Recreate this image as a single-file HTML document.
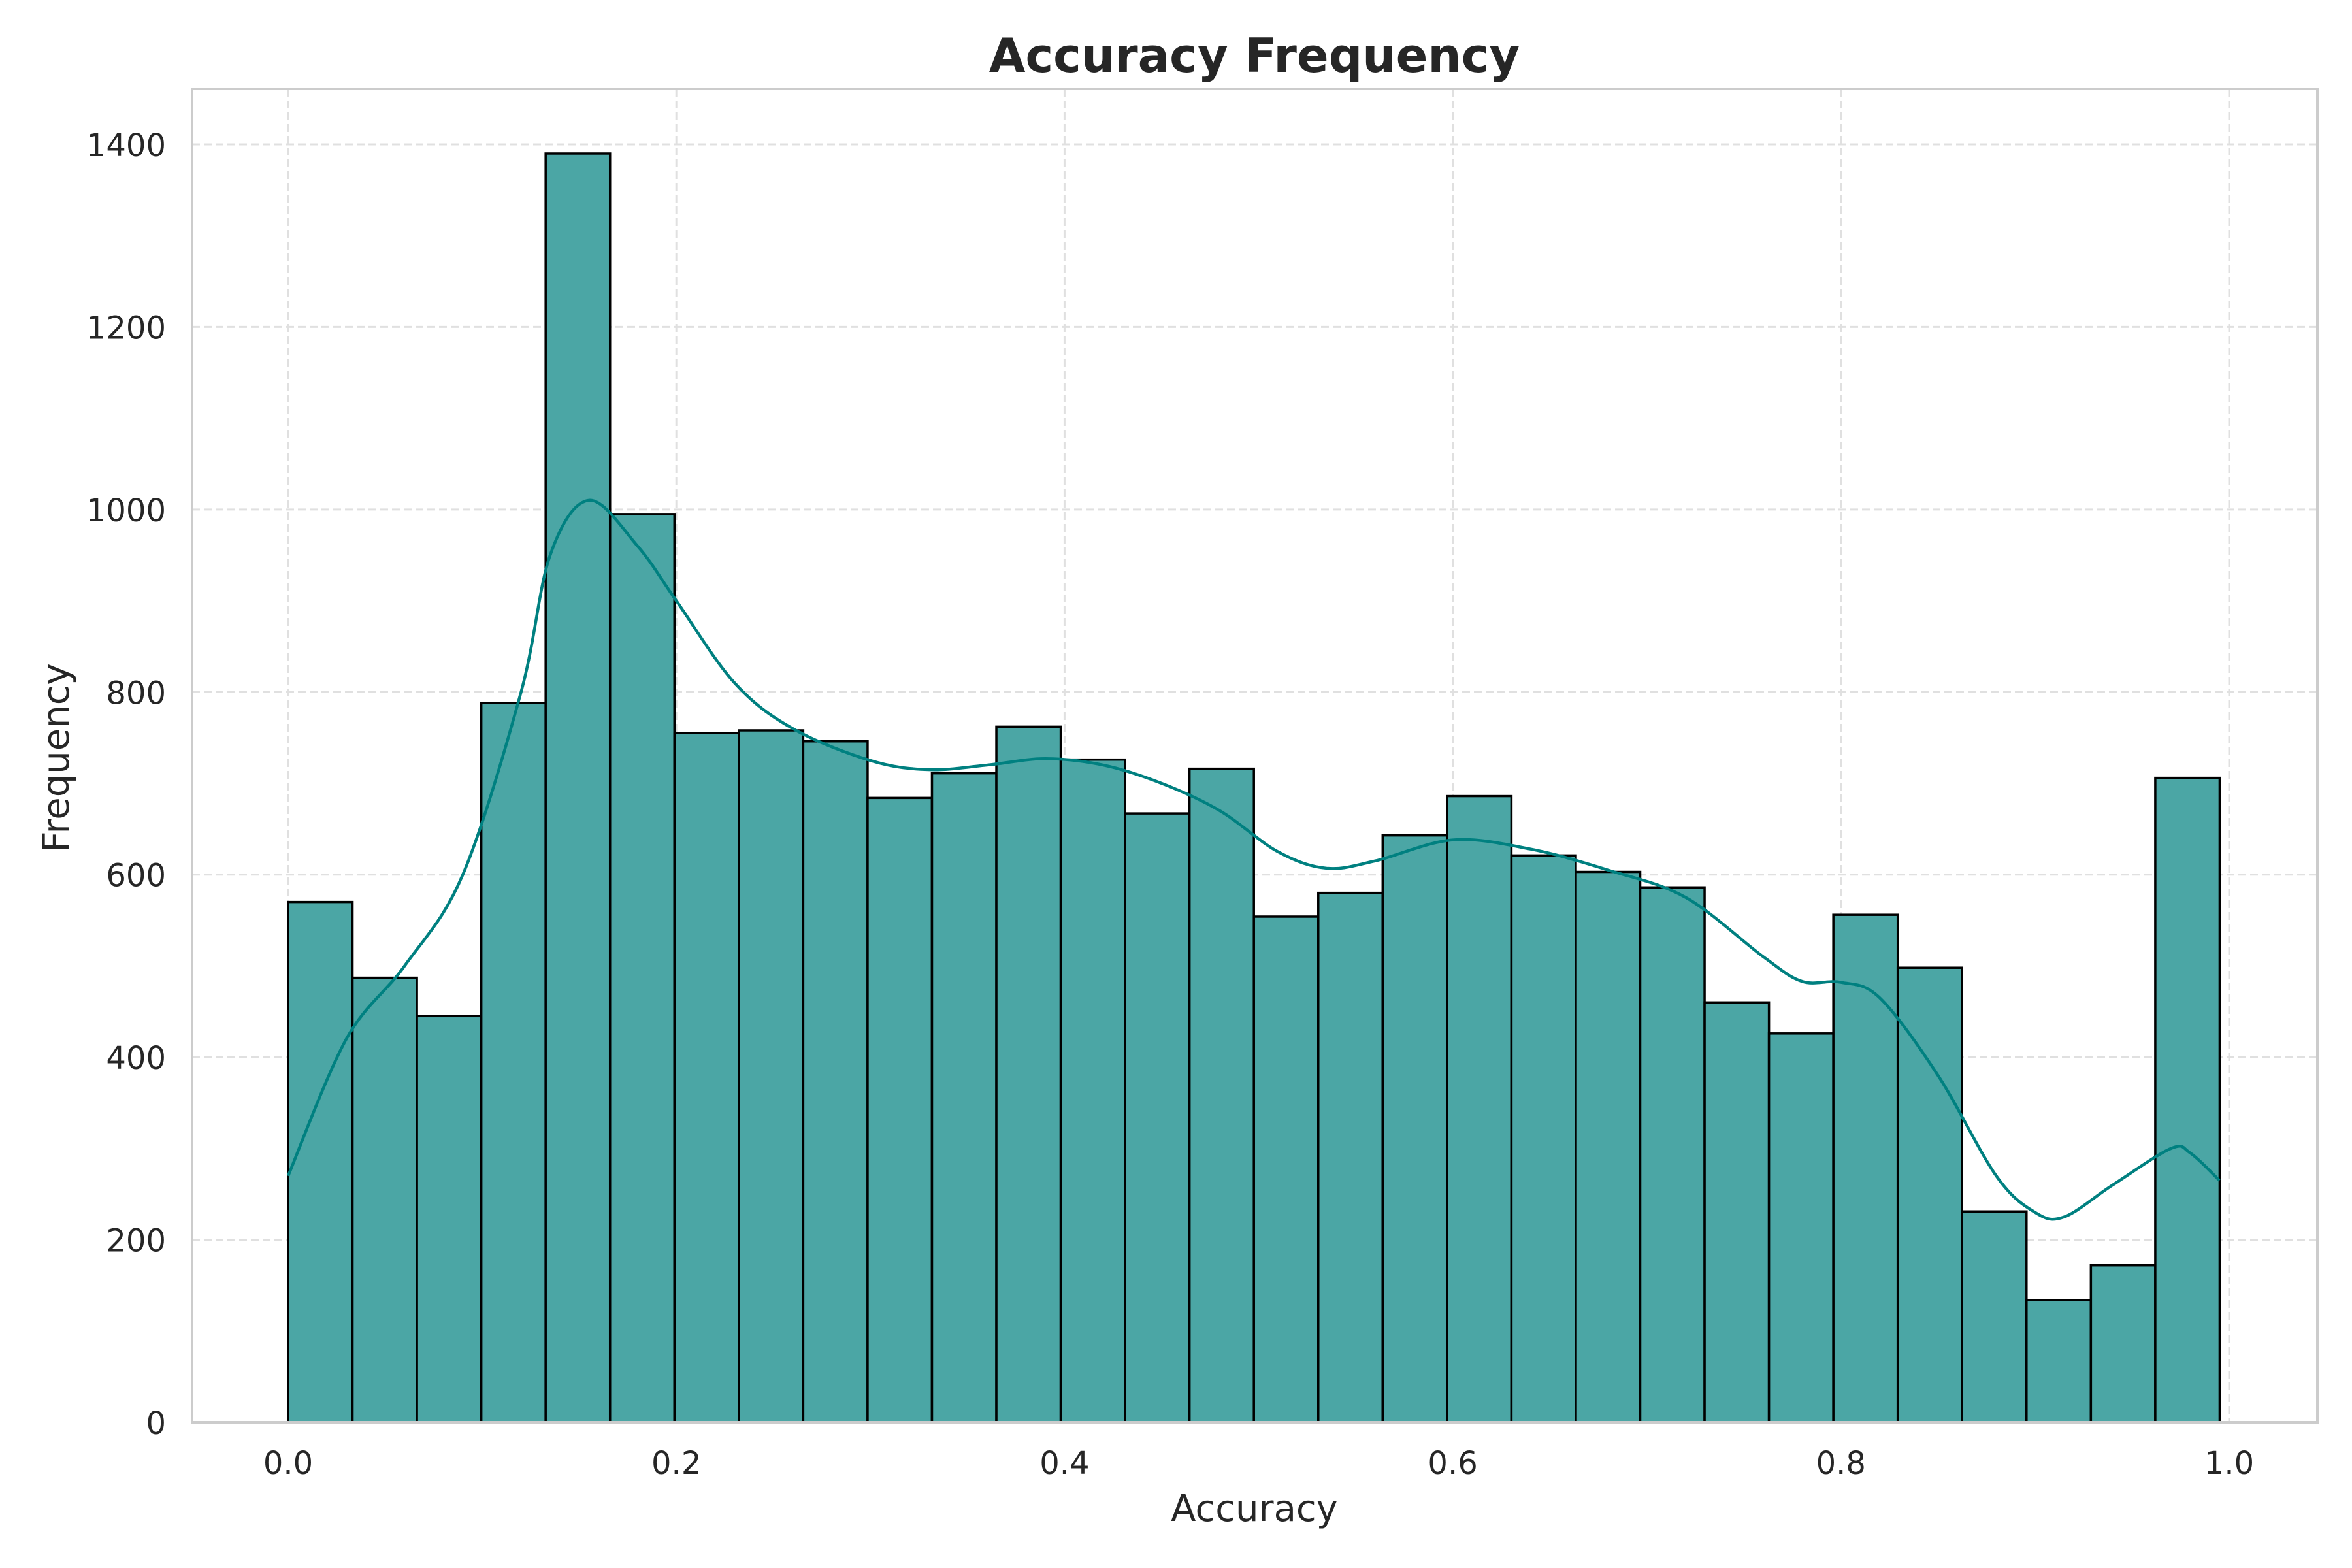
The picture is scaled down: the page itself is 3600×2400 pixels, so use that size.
<!DOCTYPE html>
<html><head><meta charset="utf-8"><style>
html,body{margin:0;padding:0;background:#fff;}
svg{display:block;font-family:"DejaVu Sans","Liberation Sans",sans-serif;}
</style></head><body>
<svg id="chart" width="3600" height="2400" viewBox="0 0 3600 2400" xmlns="http://www.w3.org/2000/svg">
<rect x="0" y="0" width="3600" height="2400" fill="#fff"/>
<g id="grid"></g>
<g id="bars"></g>
<path id="kde" fill="none" stroke="#008080" stroke-width="4.5"/>
<rect x="294" y="136" width="3253" height="2041" fill="none" stroke="#cccccc" stroke-width="4"/>
<g id="ticks"></g>
<text x="1920" y="110" text-anchor="middle" font-size="72" font-weight="bold" fill="#262626">Accuracy Frequency</text>
<text x="1920" y="2328" text-anchor="middle" font-size="56" fill="#262626">Accuracy</text>
<text x="105" y="1160" text-anchor="middle" font-size="56" fill="#262626" transform="rotate(-90 105 1160)">Frequency</text>
</svg>
<script>
const binStart = 0.0;
const binWidth = 0.03317;
const counts = [570,487,445,788,1390,995,755,758,746,684,711,762,726,667,716,554,580,643,686,621,603,586,460,426,556,498,231,134,172,706];
const kdeX = [0.0,0.03,0.06,0.09,0.12,0.135,0.155,0.18,0.2,0.23,0.26,0.3,0.33,0.36,0.39,0.42,0.45,0.48,0.51,0.535,0.56,0.6,0.64,0.68,0.72,0.76,0.78,0.8,0.82,0.85,0.88,0.9,0.915,0.94,0.97,0.98,0.995];
const kdeY = [270,420,500,600,800,950,1010,960,900,810,760,725,715,720,727,720,700,670,625,607,615,638,628,605,575,510,483,482,465,380,270,230,225,260,300,295,265];
const xTicks = [0.0,0.2,0.4,0.6,0.8,1.0];
const xTickLabels = ["0.0","0.2","0.4","0.6","0.8","1.0"];
const yTicks = [0,200,400,600,800,1000,1200,1400];

const NS="http://www.w3.org/2000/svg";
function xs(v){return 441+(3412-441)*v;}
function ys(v){return 2177-(2177-221)*v/1400;}
function mk(tag,attrs,parent){const e=document.createElementNS(NS,tag);for(const k in attrs)e.setAttribute(k,attrs[k]);parent.appendChild(e);return e;}
const grid=document.getElementById('grid'),bars=document.getElementById('bars'),ticks=document.getElementById('ticks');
xTicks.forEach((t,i)=>{
  const l=mk('line',{x1:xs(t),x2:xs(t),y1:136,y2:2177,stroke:'#e0e0e0','stroke-width':3,'stroke-dasharray':'12,6'},grid);
  
  
  const tx=mk('text',{x:xs(t),y:2256,'text-anchor':'middle','font-size':48,fill:'#262626'},ticks);
  tx.textContent=xTickLabels[i];
  
  
});
yTicks.forEach(t=>{
  const l=mk('line',{x1:294,x2:3547,y1:ys(t),y2:ys(t),stroke:'#e0e0e0','stroke-width':3,'stroke-dasharray':'12,6'},grid);
  
  
  const tx=mk('text',{x:254,y:ys(t)+18,'text-anchor':'end','font-size':48,fill:'#262626'},ticks);
  tx.textContent=String(t);
  
  
});
counts.forEach((c,i)=>{
  const x0=xs(binStart+i*binWidth),x1=xs(binStart+(i+1)*binWidth);
  const r=mk('rect',{x:x0,y:ys(c),width:x1-x0,height:ys(0)-ys(c),fill:'rgb(75,166,165)',stroke:'#000','stroke-width':3.5},bars);
  
  
});
const P=kdeX.map((x,i)=>[xs(x),ys(kdeY[i])]);
let d='M'+P[0][0]+','+P[0][1];
for(let i=0;i<P.length-1;i++){
  const p0=P[Math.max(0,i-1)],p1=P[i],p2=P[i+1],p3=P[Math.min(P.length-1,i+2)];
  const c1=[p1[0]+(p2[0]-p0[0])/6,p1[1]+(p2[1]-p0[1])/6];
  const c2=[p2[0]-(p3[0]-p1[0])/6,p2[1]-(p3[1]-p1[1])/6];
  d+=' C'+c1[0]+','+c1[1]+' '+c2[0]+','+c2[1]+' '+p2[0]+','+p2[1];
}
document.getElementById('kde').setAttribute('d',d);
</script>
</body></html>
